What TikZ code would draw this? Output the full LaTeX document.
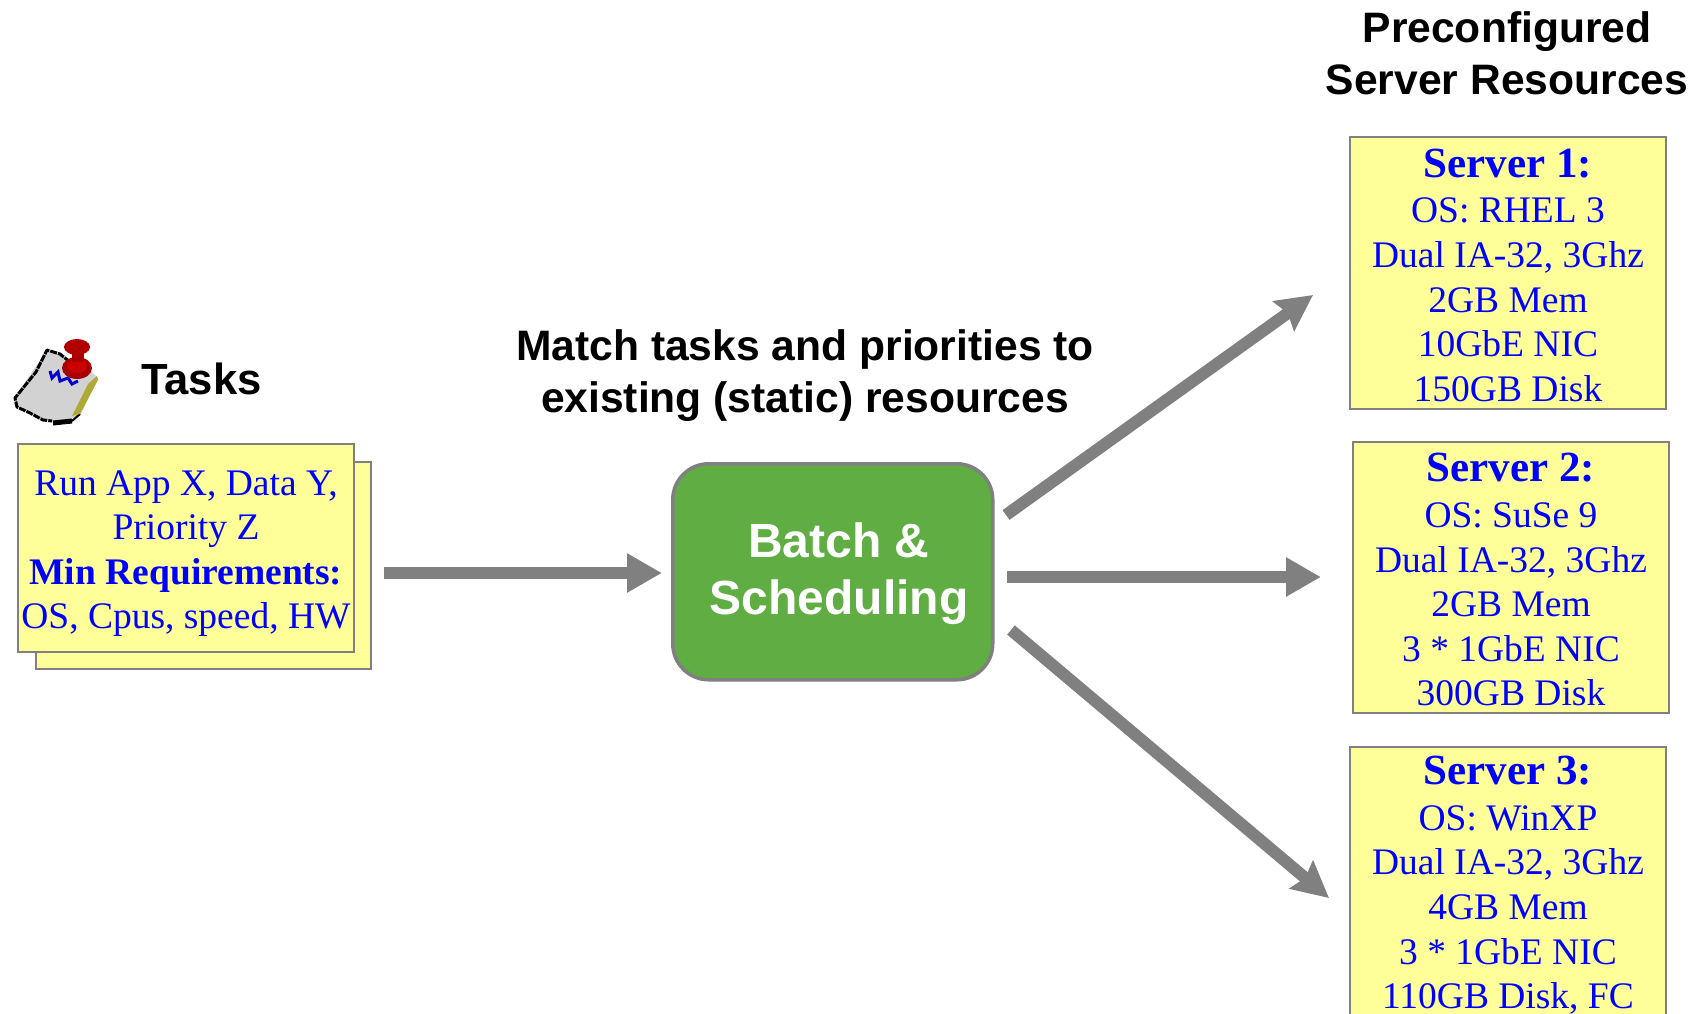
\documentclass[tikz,border=0pt]{standalone}
\usepackage{fontspec}
\setmainfont{Liberation Serif}
\newfontfamily\arialfont{Liberation Sans}
\usetikzlibrary{arrows.meta}
\definecolor{noteyellow}{HTML}{FFFF99}
\definecolor{edgegray}{HTML}{808080}
\definecolor{batchgreen}{HTML}{5FAD43}
\newcommand{\srvhead}[1]{\rule{0pt}{33pt}\textbf{\fontsize{43}{44.6}\selectfont #1}}
\tikzset{
  x=1pt,y=-1pt,
  notebox/.style={draw=edgegray,line width=2pt,fill=noteyellow,anchor=north west,inner sep=0pt,text=blue,align=center,
    font=\fontsize{37.5}{44.6}\selectfont},
  title/.style={align=center,font=\arialfont\bfseries\fontsize{42.6}{52}\selectfont,text=black,inner sep=0pt},
  flow/.style={draw=edgegray,line width=12pt,-{Triangle[length=35pt,width=37pt]}},
  flowd/.style={draw=edgegray,line width=12pt,-{Stealth[length=36pt,width=36pt,inset=5pt]}},
}
\begin{document}
\begin{tikzpicture}
\useasboundingbox (0,0) rectangle (1695,1013);
\clip (0,0) rectangle (1695,1013);
% icon
\fill[gray!35] (47,350) -- (88,368) -- (98,378) -- (80,416) -- (60,422) -- (42,419) -- (16,406) -- (15,397) -- cycle;
\draw[black,line width=3pt,line join=round,dash pattern=on 7pt off 1pt] (70,362) -- (60,354) -- (47,350) -- (36,372) -- (15,398) -- (17,407) -- (30,413) -- (43,420) -- (52,421);
\draw[black,line width=5pt] (53,423) -- (72,421);
\draw[black,line width=2pt] (72,421) -- (80,414);
\fill[olive!70] (80,414) -- (98,380) -- (97,376) -- (88,384) -- (72,416) -- cycle;
\draw[blue!80!black,line width=3pt] (50,371) -- (52,378) -- (58,372) -- (60,381) -- (68,378) -- (72,384) -- (78,381);
\fill[red!65!black] (77,368) ellipse (15pt and 11pt);
\fill[red!80!black] (77,366) ellipse (10pt and 7pt);
\fill[red!65!black] (72,352) rectangle (84,362);
\fill[red!70!black] (77,347) ellipse (13pt and 8pt);
%
\node[title] (pre) at (1507,53) {Preconfigured\\Server Resources};
\node[title,anchor=west,font=\arialfont\bfseries\fontsize{43.6}{52}\selectfont] (tasks) at (141,379) {Tasks};
\node[title] (match) at (805,376) {Match tasks and priorities to\\existing (static) resources};
%
\node[notebox,minimum width=335pt,minimum height=207pt] (back) at (35,461) {};
\node[notebox,minimum width=336pt,minimum height=208pt] (task) at (17,443) {\rule{0pt}{36pt}Run App X, Data Y,\\Priority Z\\\textbf{Min Requirements:}\\OS, Cpus, speed, HW};
\node[draw=edgegray,line width=3.5pt,fill=batchgreen,rounded corners=36pt,anchor=north west,minimum width=320pt,minimum height=216pt,inner sep=0pt] (batch) at (671,462) {};
\node[text=white,align=center,font=\arialfont\bfseries\fontsize{48}{57}\selectfont,inner sep=0pt] (batchtext) at (839,574) {Batch \&\\Scheduling};
%
\node[notebox,minimum width=316pt,minimum height=272pt] (s1) at (1349,136) {\srvhead{Server 1:}\\[1pt]OS: RHEL 3\\Dual IA-32, 3Ghz\\2GB Mem\\10GbE NIC\\150GB Disk};
\node[notebox,minimum width=316pt,minimum height=271pt] (s2) at (1352,441) {\srvhead{Server 2:}\\[1pt]OS: SuSe 9\\Dual IA-32, 3Ghz\\2GB Mem\\3 * 1GbE NIC\\300GB Disk};
\node[notebox,minimum width=316pt,minimum height=272pt] (s3) at (1349,746) {\srvhead{Server 3:}\\[1pt]OS: WinXP\\Dual IA-32, 3Ghz\\4GB Mem\\3 * 1GbE NIC\\110GB Disk, FC};
%
\coordinate (a0) at (384,573);
\coordinate (a1) at (662,573);
\coordinate (b0) at (1007,577);
\coordinate (b1) at (1321,577);
\coordinate (c0) at (1006,515);
\coordinate (c1) at (1313,295);
\coordinate (d0) at (1011,630);
\coordinate (d1) at (1329,898);
\draw[flow] (a0) -- (a1);
\draw[flow] (b0) -- (b1);
\draw[flowd] (c0) -- (c1);
\draw[flowd] (d0) -- (d1);
\end{tikzpicture}
\end{document}
